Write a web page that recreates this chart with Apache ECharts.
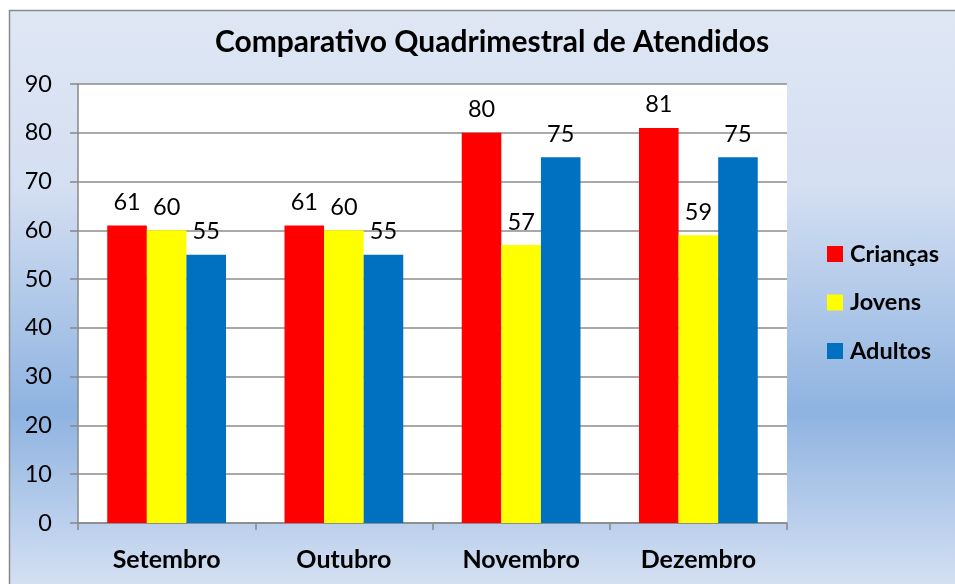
<!DOCTYPE html>
<html>
<head>
<meta charset="utf-8">
<script src="https://cdn.jsdelivr.net/npm/echarts@6/dist/echarts.min.js"></script>
<style>
html,body{margin:0;padding:0;background:#fff;}
#chart{width:955px;height:584px;}
</style>
</head>
<body>
<div id="chart"></div>
<script>
const categories = ['Setembro', 'Outubro', 'Novembro', 'Dezembro'];
const criancas = [61, 61, 80, 81];
const jovens = [60, 60, 57, 59];
const adultos = [55, 55, 75, 75];
const seriesNames = ['Crianças', 'Jovens', 'Adultos'];
const colors = ['#ff0000', '#ffff00', '#0070c0'];

const FONT = 'Lato, "Open Sans", sans-serif';
const chart = echarts.init(document.getElementById('chart'), null, {renderer: 'canvas'});

const labelCfg = {show: true, position: 'top', distance: 11, color: '#000', fontSize: 23.5, fontFamily: FONT};

chart.setOption({
  backgroundColor: '#ffffff',
  animation: false,
  graphic: [{
    type: 'rect', z: -10, silent: true,
    shape: {x: 9.5, y: 10.5, width: 960, height: 590},
    style: {
      fill: new echarts.graphic.LinearGradient(0, 0, 0, 1, [
        {offset: 0, color: '#dfe7f4'},
        {offset: 0.3, color: '#d4dff2'},
        {offset: 0.68, color: '#8eb3e1'},
        {offset: 1, color: '#dbe4f4'}
      ]),
      stroke: '#8a8a8a', lineWidth: 1.5
    }
  }],
  title: {
    text: 'Comparativo Quadrimestral de Atendidos',
    left: 487, textAlign: 'center', top: 22,
    textStyle: {fontFamily: FONT, fontWeight: 'bold', fontSize: 30, color: '#000'}
  },
  legend: {
    orient: 'vertical', left: 822, top: 237, itemGap: 24.5,
    itemWidth: 16, itemHeight: 16, icon: 'rect',
    textStyle: {fontFamily: FONT, fontWeight: 'bold', fontSize: 23.5, color: '#000', padding: [0, 0, 0, 2]},
    data: seriesNames
  },
  grid: {left: 78, right: 168, top: 84, bottom: 61, show: true, backgroundColor: '#ffffff', borderWidth: 0},
  xAxis: {
    type: 'category', data: categories,
    axisLine: {lineStyle: {color: '#888', width: 1.5}},
    axisTick: {show: true, length: 7, lineStyle: {color: '#888', width: 1.5}},
    axisLabel: {fontFamily: FONT, fontWeight: 'bold', fontSize: 25, color: '#000', margin: 24}
  },
  yAxis: {
    type: 'value', min: 0, max: 90, interval: 10,
    axisLine: {show: true, lineStyle: {color: '#888', width: 1.5}},
    axisTick: {show: true, length: 8, lineStyle: {color: '#888', width: 1.5}},
    axisLabel: {fontFamily: FONT, fontSize: 23.5, color: '#000', margin: 26},
    splitLine: {lineStyle: {color: '#8c8c8c', width: 1.5}}
  },
  series: [
    {name: seriesNames[0], type: 'bar', data: criancas, barGap: '0%', barCategoryGap: '33%', itemStyle: {color: colors[0]}, label: labelCfg},
    {name: seriesNames[1], type: 'bar', data: jovens, itemStyle: {color: colors[1]}, label: labelCfg},
    {name: seriesNames[2], type: 'bar', data: adultos, itemStyle: {color: colors[2]}, label: labelCfg}
  ]
});
</script>
</body>
</html>
